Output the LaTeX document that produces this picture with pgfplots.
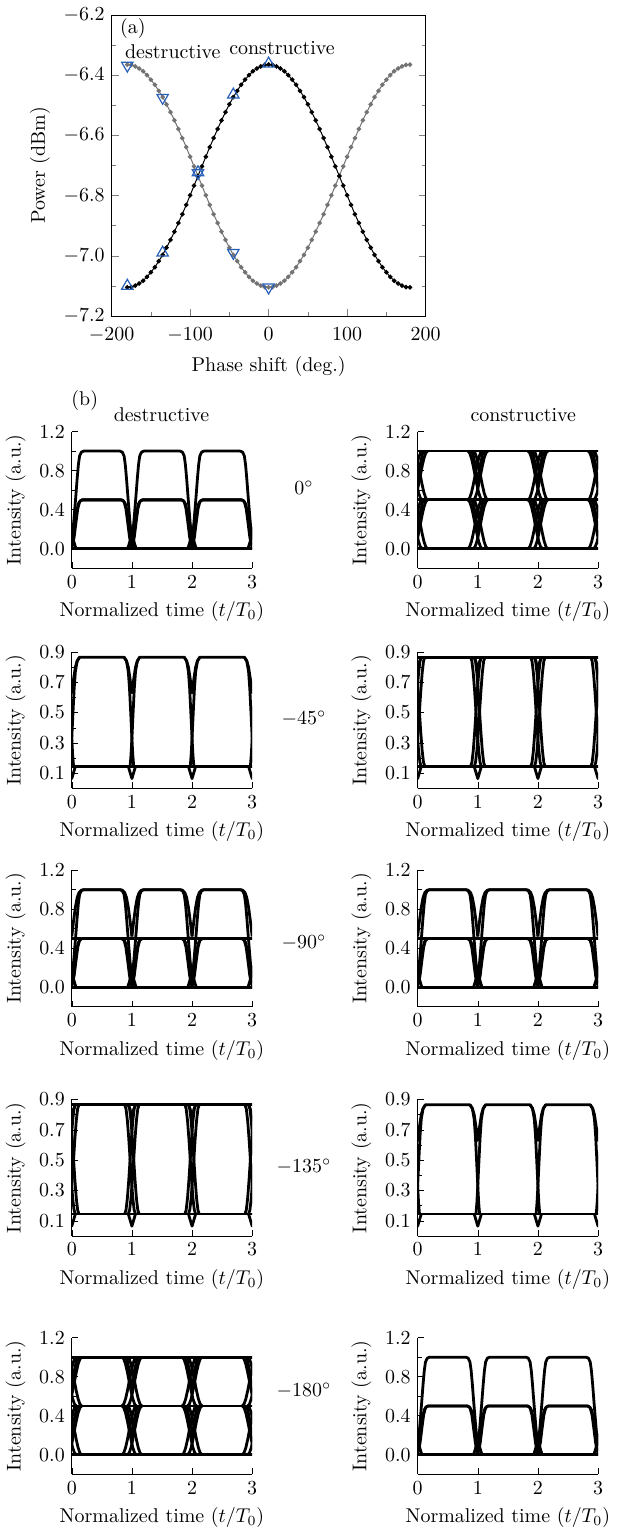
\documentclass[border=0pt]{standalone}
\usepackage{pgfplots}
\usepackage{pgfplotstable}
\pgfplotsset{compat=1.18}

\definecolor{triblue}{RGB}{40,95,185}

% (a) output power vs phase shift, 5 deg steps
\pgfplotstableread{
phi con des
-180 -7.105 -6.365
-175 -7.104 -6.366
-170 -7.099 -6.371
-165 -7.092 -6.378
-160 -7.083 -6.387
-155 -7.070 -6.400
-150 -7.055 -6.415
-145 -7.038 -6.432
-140 -7.018 -6.452
-135 -6.997 -6.473
-130 -6.973 -6.497
-125 -6.947 -6.523
-120 -6.920 -6.550
-115 -6.891 -6.579
-110 -6.862 -6.609
-105 -6.831 -6.639
-100 -6.799 -6.671
-95 -6.767 -6.703
-90 -6.735 -6.735
-85 -6.703 -6.767
-80 -6.671 -6.799
-75 -6.639 -6.831
-70 -6.609 -6.862
-65 -6.579 -6.891
-60 -6.550 -6.920
-55 -6.523 -6.947
-50 -6.497 -6.973
-45 -6.473 -6.997
-40 -6.452 -7.018
-35 -6.432 -7.038
-30 -6.415 -7.055
-25 -6.400 -7.070
-20 -6.387 -7.083
-15 -6.378 -7.092
-10 -6.371 -7.099
-5 -6.366 -7.104
0 -6.365 -7.105
5 -6.366 -7.104
10 -6.371 -7.099
15 -6.378 -7.092
20 -6.387 -7.083
25 -6.400 -7.070
30 -6.415 -7.055
35 -6.432 -7.038
40 -6.452 -7.018
45 -6.473 -6.997
50 -6.497 -6.973
55 -6.523 -6.947
60 -6.550 -6.920
65 -6.579 -6.891
70 -6.609 -6.862
75 -6.639 -6.831
80 -6.671 -6.799
85 -6.703 -6.767
90 -6.735 -6.735
95 -6.767 -6.703
100 -6.799 -6.671
105 -6.831 -6.639
110 -6.862 -6.609
115 -6.891 -6.579
120 -6.920 -6.550
125 -6.947 -6.523
130 -6.973 -6.497
135 -6.997 -6.473
140 -7.018 -6.452
145 -7.038 -6.432
150 -7.055 -6.415
155 -7.070 -6.400
160 -7.083 -6.387
165 -7.092 -6.378
170 -7.099 -6.371
175 -7.104 -6.366
180 -7.105 -6.365
}\sweep

% measured points (triangles)
\pgfplotstableread{
phi up down
-180 -7.100 -6.368
-135 -6.990 -6.475
-90 -6.723 -6.725
-45 -6.465 -6.990
0 -6.362 -7.105
}\meas

% ---- eye diagram pieces, u = time inside one bit slot ----
% RZ-like pulse to 1.0
\pgfplotstableread{
u v
0.00 0.04
0.02 0.18
0.04 0.33
0.065 0.52
0.09 0.72
0.11 0.86
0.13 0.95
0.16 0.99
0.20 1.00
0.80 1.00
0.84 0.99
0.87 0.95
0.89 0.86
0.91 0.72
0.935 0.52
0.96 0.33
0.98 0.18
1.00 0.04
}\Ahi
% pulse to 0.5, edges crossing the slot border
\pgfplotstableread{
u v
-0.07 0.00
-0.04 0.06
0.00 0.15
0.04 0.26
0.08 0.38
0.11 0.46
0.14 0.49
0.18 0.50
0.82 0.50
0.86 0.49
0.89 0.46
0.92 0.38
0.96 0.26
1.00 0.15
1.04 0.06
1.07 0.00
}\Amid
% pulse to 0.5, rounded foot
\pgfplotstableread{
u v
-0.02 0.00
0.01 0.03
0.04 0.12
0.07 0.27
0.10 0.41
0.13 0.48
0.17 0.50
0.83 0.50
0.87 0.48
0.90 0.41
0.93 0.27
0.96 0.12
0.99 0.03
1.02 0.00
}\Amidr
% pulse from 0.5 to 1.0
\pgfplotstableread{
u v
0.00 0.52
0.03 0.68
0.06 0.82
0.09 0.92
0.12 0.97
0.16 0.995
0.20 1.00
0.80 1.00
0.84 0.995
0.88 0.97
0.91 0.92
0.94 0.82
0.97 0.68
1.00 0.52
}\Ahifive
% 3-level NRZ transitions
\pgfplotstableread{
u f1 r1 f0 r0
-0.12 1.000 0.500 0.500 0.000
-0.09 0.981 0.519 0.481 0.019
-0.06 0.927 0.573 0.427 0.073
-0.03 0.845 0.655 0.345 0.155
0.00 0.750 0.750 0.250 0.250
0.03 0.655 0.845 0.155 0.345
0.06 0.573 0.927 0.073 0.427
0.09 0.519 0.981 0.019 0.481
0.12 0.500 1.000 0.000 0.500
}\Bs
\pgfplotstableread{
u hi lo
-0.12 1.00 0.50
-0.08 0.97 0.47
-0.04 0.85 0.36
0.00 0.64 0.14
0.04 0.85 0.36
0.08 0.97 0.47
0.12 1.00 0.50
}\Bv
% 2-level NRZ transitions (0.865 / 0.145)
\pgfplotstableread{
u f r
-0.09 0.865 0.145
-0.0675 0.838 0.172
-0.045 0.760 0.250
-0.0225 0.643 0.367
0.00 0.505 0.505
0.0225 0.367 0.643
0.045 0.250 0.760
0.0675 0.172 0.838
0.09 0.145 0.865
}\Cs
\pgfplotstableread{
u hi lo
-0.06 0.865 0.145
-0.03 0.835 0.105
0.00 0.765 0.065
0.03 0.835 0.105
0.06 0.865 0.145
}\Cv
% 2-level pulses
\pgfplotstableread{
u v
-0.03 0.145
-0.015 0.22
0.00 0.33
0.02 0.50
0.04 0.66
0.06 0.77
0.09 0.84
0.13 0.865
0.87 0.865
0.91 0.84
0.94 0.77
0.96 0.66
0.98 0.50
1.00 0.33
1.015 0.22
1.03 0.145
}\Cp
\pgfplotstableread{
u v
-0.13 0.865
-0.09 0.84
-0.06 0.80
-0.03 0.72
0.00 0.63
0.03 0.72
0.06 0.80
0.09 0.84
0.13 0.865
}\Cpv

\newcommand{\slots}[3]{%
  \pgfplotsinvokeforeach{#1}{%
    \addplot[trace] table[x expr=\thisrow{u}+##1, y=#3] {#2};}}
\newcommand{\level}[1]{\addplot[trace] coordinates {(-0.1,#1) (3.1,#1)};}

\newcommand{\eyeA}{%
  \level{0}
  \slots{0,1,2}{\Ahi}{v}
  \slots{-1,0,1,2,3}{\Amid}{v}
  \slots{0,1,2}{\Amidr}{v}}
\newcommand{\eyeAn}{%
  \eyeA
  \level{0.5}
  \slots{0,1,2}{\Ahifive}{v}}
\newcommand{\eyeB}{%
  \level{0}\level{0.5}\level{1}
  \slots{-0.045,0.045,0.955,1.045,1.955,2.045,2.955,3.045}{\Bs}{f1}
  \slots{-0.045,0.045,0.955,1.045,1.955,2.045,2.955,3.045}{\Bs}{r1}
  \slots{-0.045,0.045,0.955,1.045,1.955,2.045,2.955,3.045}{\Bs}{f0}
  \slots{-0.045,0.045,0.955,1.045,1.955,2.045,2.955,3.045}{\Bs}{r0}
  \slots{0,1,2,3}{\Bv}{hi}
  \slots{0,1,2,3}{\Bv}{lo}}
\newcommand{\eyeC}{%
  \level{0.865}\level{0.145}
  \slots{-0.03,0.03,0.97,1.03,1.97,2.03,2.97,3.03}{\Cs}{f}
  \slots{-0.03,0.03,0.97,1.03,1.97,2.03,2.97,3.03}{\Cs}{r}
  \slots{0,1,2,3}{\Cv}{hi}
  \slots{0,1,2,3}{\Cv}{lo}}
\newcommand{\eyeP}{%
  \level{0.145}
  \slots{-1,0,1,2,3}{\Cp}{v}
  \slots{0,1,2,3}{\Cpv}{v}
  \slots{0,1,2,3}{\Cv}{lo}}

\pgfplotsset{
  trace/.style={black, line width=1.4pt, no markers, line join=round},
  eye/.style={
    scale only axis, width=90.5pt, height=68.5pt,
    axis x line=bottom, axis y line=left, axis line style={-},
    xmin=0, xmax=3, xtick={0,1,2,3},
    tick align=inside, major tick length=3pt, minor tick length=2pt,
    tick style={black},
    minor y tick num=1,
    xlabel={Normalized time ($t/T_0$)},
    ylabel={Intensity (a.u.)},
    yticklabel style={/pgf/number format/.cd, fixed, fixed zerofill, precision=1},
  },
  eyetwelve/.style={eye, ymin=-0.2, ymax=1.2, ytick={0,0.4,0.8,1.2}},
  eyenine/.style={eye, ymin=0, ymax=0.9, ytick={0.1,0.3,0.5,0.7,0.9}},
}

\begin{document}
\begin{tikzpicture}
\useasboundingbox (0,2.5pt) rectangle (313.5pt,-767.5pt);

% ---------------- (a) ----------------
\begin{axis}[
  at={(56pt,-156pt)}, anchor=south west,
  scale only axis, width=157.5pt, height=151pt,
  xmin=-200, xmax=200, ymin=-7.2, ymax=-6.2,
  xtick={-200,-100,0,100,200},
  ytick={-7.2,-7.0,-6.8,-6.6,-6.4,-6.2},
  minor x tick num=1, minor y tick num=1,
  xtick pos=bottom, ytick pos=both,
  tick align=inside, major tick length=3.5pt, minor tick length=2pt,
  xticklabel style={yshift=-2.5pt},
  yticklabel style={/pgf/number format/.cd, fixed, fixed zerofill, precision=1},
  xlabel={Phase shift (deg.)},
  ylabel={Power (dBm)},
]
\addplot[black!55, line width=0.5pt, mark=*, mark size=0.9pt] table[x=phi, y=des] {\sweep};
\addplot[black, line width=0.5pt, mark=*, mark size=0.9pt] table[x=phi, y=con] {\sweep};
\addplot[only marks, triblue, mark=triangle, mark size=3.3pt, mark options={line width=0.6pt}] table[x=phi, y=up] {\meas};
\addplot[only marks, triblue, mark=triangle, mark size=3.3pt, mark options={rotate=180, line width=0.6pt}] table[x=phi, y=down] {\meas};
\node at (axis cs:-173,-6.246) {(a)};
\node at (axis cs:-122,-6.322) {destructive};
\node at (axis cs:17,-6.309) {constructive};
\end{axis}

% ---------------- (b) ----------------
\node at (42.5pt,-198.5pt) {(b)};
\node at (81pt,-205.5pt) {destructive};
\node at (262.5pt,-205.5pt) {constructive};
\node at (152.5pt,-242pt) {$0^{\circ}$};
\node at (152.5pt,-358pt) {$-45^{\circ}$};
\node at (152.5pt,-470.5pt) {$-90^{\circ}$};
\node at (152.5pt,-582.5pt) {$-135^{\circ}$};
\node at (152.5pt,-695pt) {$-180^{\circ}$};

% 0 deg
\begin{axis}[eyetwelve, at={(36pt,-282.5pt)}, anchor=south west] \eyeA \end{axis}
\begin{axis}[eyetwelve, at={(209.5pt,-282.5pt)}, anchor=south west] \eyeB \end{axis}
% -45 deg
\begin{axis}[eyenine, at={(36pt,-393pt)}, anchor=south west] \eyeP \end{axis}
\begin{axis}[eyenine, at={(209.5pt,-393pt)}, anchor=south west] \eyeC \end{axis}
% -90 deg
\begin{axis}[eyetwelve, at={(36pt,-502.5pt)}, anchor=south west] \eyeAn \end{axis}
\begin{axis}[eyetwelve, at={(209.5pt,-502.5pt)}, anchor=south west] \eyeAn \end{axis}
% -135 deg
\begin{axis}[eyenine, at={(36pt,-617.5pt)}, anchor=south west] \eyeC \end{axis}
\begin{axis}[eyenine, at={(209.5pt,-617.5pt)}, anchor=south west] \eyeP \end{axis}
% -180 deg
\begin{axis}[eyetwelve, at={(36pt,-737pt)}, anchor=south west] \eyeB \end{axis}
\begin{axis}[eyetwelve, at={(209.5pt,-737pt)}, anchor=south west] \eyeA \end{axis}
\end{tikzpicture}
\end{document}
